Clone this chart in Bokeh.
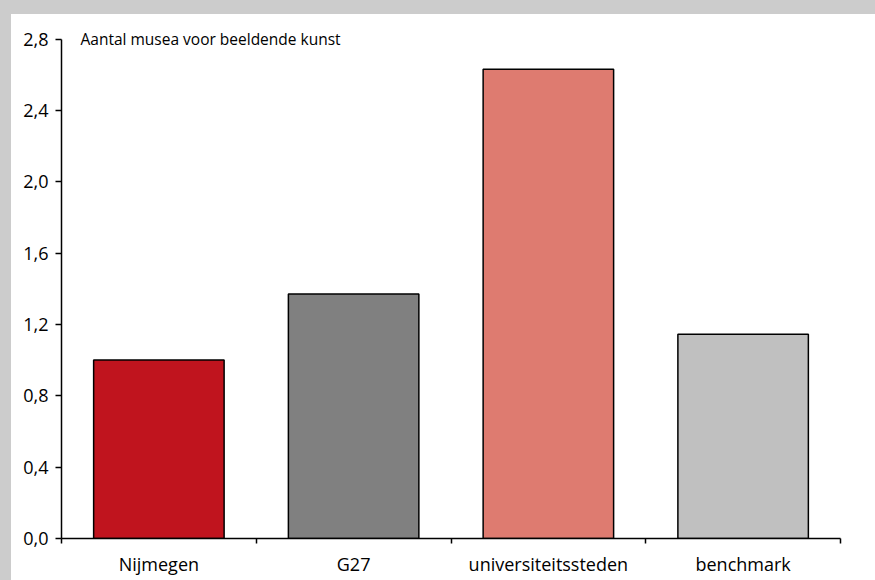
from bokeh.plotting import figure
from bokeh.models import (FixedTicker, CustomJSTickFormatter, Range1d, Label,
                          ColumnDataSource)
from bokeh.embed import file_html
from bokeh.resources import INLINE

categories = ["Nijmegen", "G27", "universiteitssteden", "benchmark"]
values = [1.0, 1.37, 2.63, 1.145]
colors = ["#C0141E", "#808080", "#DE7B70", "#C0C0C0"]
y_ticks = [0.0, 0.4, 0.8, 1.2, 1.6, 2.0, 2.4, 2.8]
title_text = "Aantal musea voor beeldende kunst"

FONT = "Open Sans"
GREY = "#CCCCCC"

xs = [i + 0.5 for i in range(len(categories))]
src = ColumnDataSource(dict(x=xs, top=values, color=colors, name=categories))

p = figure(width=875, height=580, output_backend="svg", toolbar_location=None,
           x_range=Range1d(0, len(categories)), y_range=Range1d(0, 2.915),
           min_border_left=61, min_border_right=35, min_border_top=18,
           min_border_bottom=42)
p.background_fill_color = "white"
p.border_fill_color = None
p.outline_line_color = None
p.grid.visible = False
p.styles = {
    "position": "fixed",
    "top": "0px",
    "left": "0px",
    "background": (f"linear-gradient({GREY}, {GREY}) left top / 100% 14px no-repeat, "
                   f"linear-gradient({GREY}, {GREY}) left top / 11px 100% no-repeat, "
                   "white"),
}

p.vbar(x="x", top="top", width=0.67, bottom=0, source=src,
       fill_color="color", line_color="black", line_width=1.5)

# y axis
ya = p.yaxis[0]
ya.bounds = (y_ticks[0], y_ticks[-1])
ya.ticker = FixedTicker(ticks=y_ticks, minor_ticks=[])
ya.formatter = CustomJSTickFormatter(code="return tick.toFixed(1).replace('.', ',');")
ya.axis_line_width = 1.5
ya.major_tick_line_width = 1.5
ya.major_tick_out = 6
ya.major_tick_in = 0
ya.minor_tick_line_color = None
ya.major_label_standoff = 7
ya.major_label_text_font = FONT
ya.major_label_text_font_size = "18px"
ya.major_label_text_color = "black"
ya.axis_line_color = "black"

# x axis: labels at centers, ticks at boundaries
xa = p.xaxis[0]
xa.ticker = FixedTicker(ticks=xs, minor_ticks=list(range(len(categories) + 1)))
xa.formatter = CustomJSTickFormatter(args=dict(labels=categories),
                                     code="return labels[Math.floor(tick)];")
xa.axis_line_width = 1.5
xa.major_tick_line_color = None
xa.major_tick_out = 0
xa.major_tick_in = 0
xa.minor_tick_line_width = 1.5
xa.minor_tick_line_color = "black"
xa.minor_tick_out = 5
xa.minor_tick_in = 0
xa.major_label_standoff = 8
xa.major_label_text_font = FONT
xa.major_label_text_font_size = "18px"
xa.major_label_text_color = "black"
xa.axis_line_color = "black"

# chart title inside top-left
p.add_layout(Label(x=0, y=y_ticks[-1], text=title_text, x_offset=19,
                   text_baseline="middle", text_align="left",
                   text_font=FONT, text_font_size="15.5px", text_color="black"))

open("out.html", "w").write(file_html(p, INLINE))
